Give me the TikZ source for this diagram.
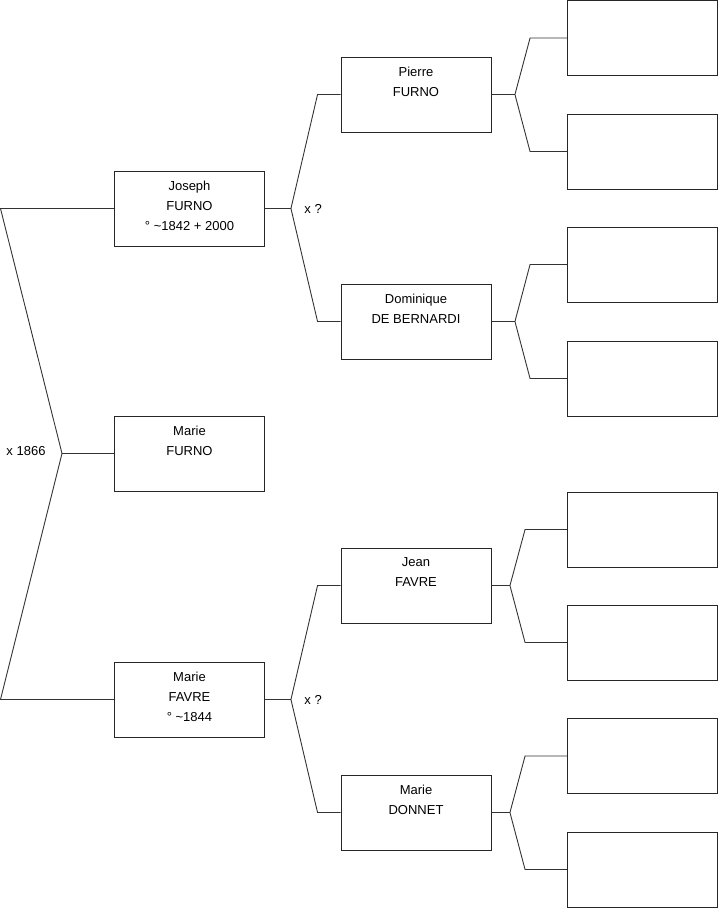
\documentclass[tikz,border=0pt]{standalone}
\usepackage{fontspec}
\setmainfont{Liberation Sans}
\usetikzlibrary{calc}
\begin{document}
\begin{tikzpicture}[x=1pt,y=-1pt,line width=0.9pt,
    font=\fontsize{13}{20}\selectfont,
    box/.style={draw=black!85,minimum width=150,minimum height=75,inner sep=0pt},
    who/.style={anchor=north,align=center,inner sep=0pt,yshift=-10pt},
    link/.style={draw=black!80}]
  \useasboundingbox (0,0) rectangle (719,908);

  % generation 1
  \node[box,label={[who]north:Joseph\\FURNO\\° \textasciitilde1842 + 2000}] (jos) at (189.5,208.5) {};
  \node[box,label={[who]north:Marie\\FURNO}] (mfu) at (189.5,453.5) {};
  \node[box,label={[who]north:Marie\\FAVRE\\° \textasciitilde1844}] (mfa) at (189.5,699.5) {};

  % generation 2
  \node[box,label={[who]north:Pierre\\FURNO}] (pie) at (416,94.5) {};
  \node[box,label={[who]north:Dominique\\DE BERNARDI}] (dom) at (416,321.5) {};
  \node[box,label={[who]north:Jean\\FAVRE}] (jea) at (416,585.5) {};
  \node[box,label={[who]north:Marie\\DONNET}] (don) at (416,812.5) {};

  % generation 3 (empty)
  \foreach \y [count=\i] in {38,151.5,264.5,378.5,529.5,642.5,756,869.5}
    \node[box] (a\i) at (642.5,\y) {};

  % couple
  \coordinate (t1) at (0.5,208.5);
  \coordinate (t2) at (62,453.5);
  \coordinate (t3) at (0.5,699.5);
  \draw[link] (jos.west) -- (t1) -- (t2) -- (t3) -- (mfa.west);
  \draw[link] (t2) -- (mfu.west);
  \node (wed) at (26,451) {x 1866};

  % parents
  \foreach \p/\u/\l in {jos/pie/dom, mfa/jea/don} {
    \draw[link] (\p.east) -- ++(26,0) coordinate (f\p);
    \draw[link] (\u.west) -- ++(-23,0) -- (f\p);
    \draw[link] (\l.west) -- ++(-23,0) -- (f\p);
    \node[anchor=west,inner sep=0pt] (x\p) at ($(f\p)+(13,0)$) {x ?};
  }

  % grandparents
  \foreach \p/\u/\l/\d in {pie/a1/a2/23.5, dom/a3/a4/23.5, jea/a5/a6/18.5, don/a7/a8/18.5} {
    \draw[link] (\p.east) -- ++(\d,0) coordinate (f\p);
    \draw[link] (\u.west) -- ++({-60.5+\d},0) -- (f\p);
    \draw[link] (\l.west) -- ++({-60.5+\d},0) -- (f\p);
  }
\end{tikzpicture}
\end{document}
